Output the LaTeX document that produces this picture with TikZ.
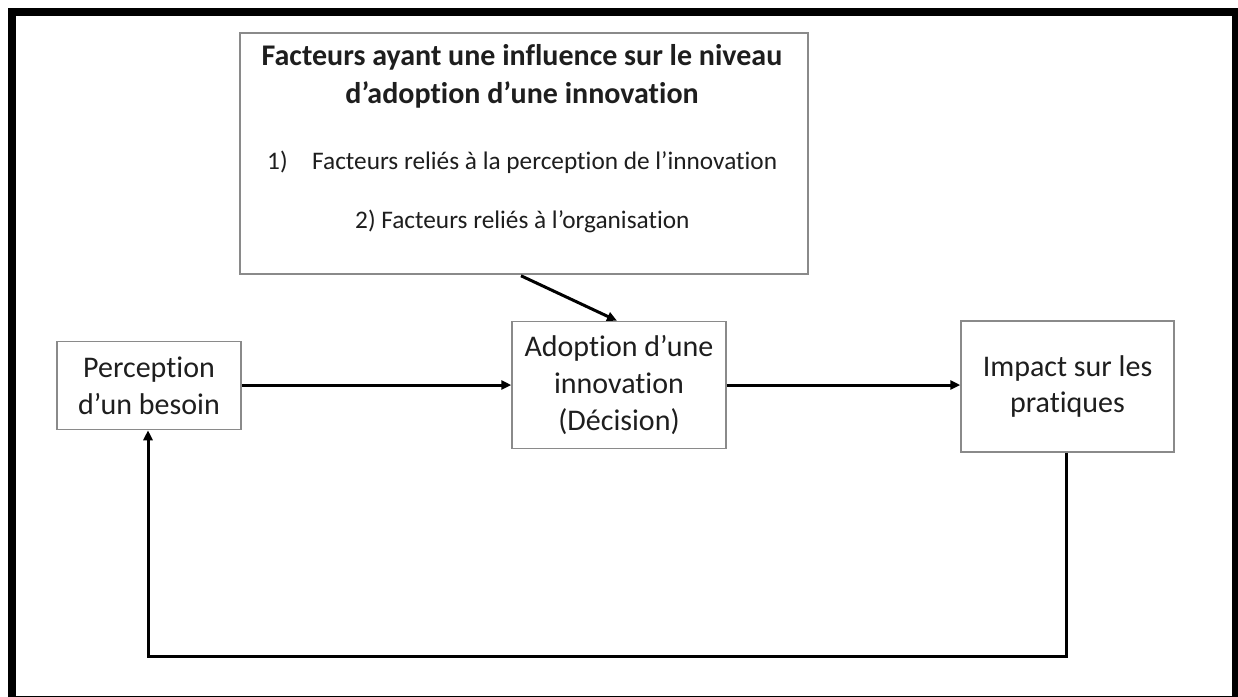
\documentclass[tikz,border=0pt]{standalone}
\usepackage{fontspec}
\setmainfont[Ligatures=NoCommon]{Carlito}
\usetikzlibrary{arrows.meta,calc}
\definecolor{boxgray}{HTML}{8A8A8A}
\definecolor{txt}{HTML}{1E1E1E}
\begin{document}
\begin{tikzpicture}[x=1pt,y=-1pt,
  box/.style={draw=boxgray,line width=1.5pt,fill=white,inner sep=0pt,align=center,text=txt,font=\fontsize{30}{36.6}\selectfont},
  conn/.style={line width=3pt,-{Triangle[length=10pt,width=9pt]}},
  ttl/.style={text=txt,font=\bfseries\fontsize{30}{36.6}\selectfont,inner sep=0pt},
  itm/.style={text=txt,font=\fontsize{25.3}{31}\selectfont,inner sep=0pt,anchor=west}]
\useasboundingbox (0,0) rectangle (1238,696);
\draw[line width=8pt] (12,12) rectangle (1236,700);
\node[box,minimum width=568pt,minimum height=241pt] (top) at (524,153.5) {};
\node[ttl] (t1) at (522,57) {Facteurs ayant une influence sur le niveau};
\node[ttl] (t2) at (522,95) {d’adoption d’une innovation};
\node[itm] (i1) at (267,162) {1)\hspace{24.5pt}Facteurs reliés à la perception de l’innovation};
\node[itm] (i2) at (355,221) {2) Facteurs reliés à l’organisation};
\node[box,minimum width=184pt,minimum height=88pt] (per) at (149,385.5) {Perception\\d’un besoin};
\node[box,minimum width=214pt,minimum height=127pt] (ado) at (619,385) {Adoption d’une\\innovation\\(Décision)};
\node[box,minimum width=213pt,minimum height=131pt] (imp) at (1067.5,386.5) {Impact sur les\\pratiques};
\coordinate (c1) at (1066,656);
\coordinate (c2) at (148,656);
\coordinate (h) at (0,385);
\draw[conn] (per.east |- h) -- (ado.west |- h);
\draw[conn] (ado.east |- h) -- (imp.west |- h);
\draw[conn] ($(top.south)+(-3,1)$) -- ($(ado.north)+(-2,0)$);
\draw[conn,line join=miter] (imp.south -| c1) -- (c1) -- (c2) -- (per.south -| c2);
\end{tikzpicture}
\end{document}
